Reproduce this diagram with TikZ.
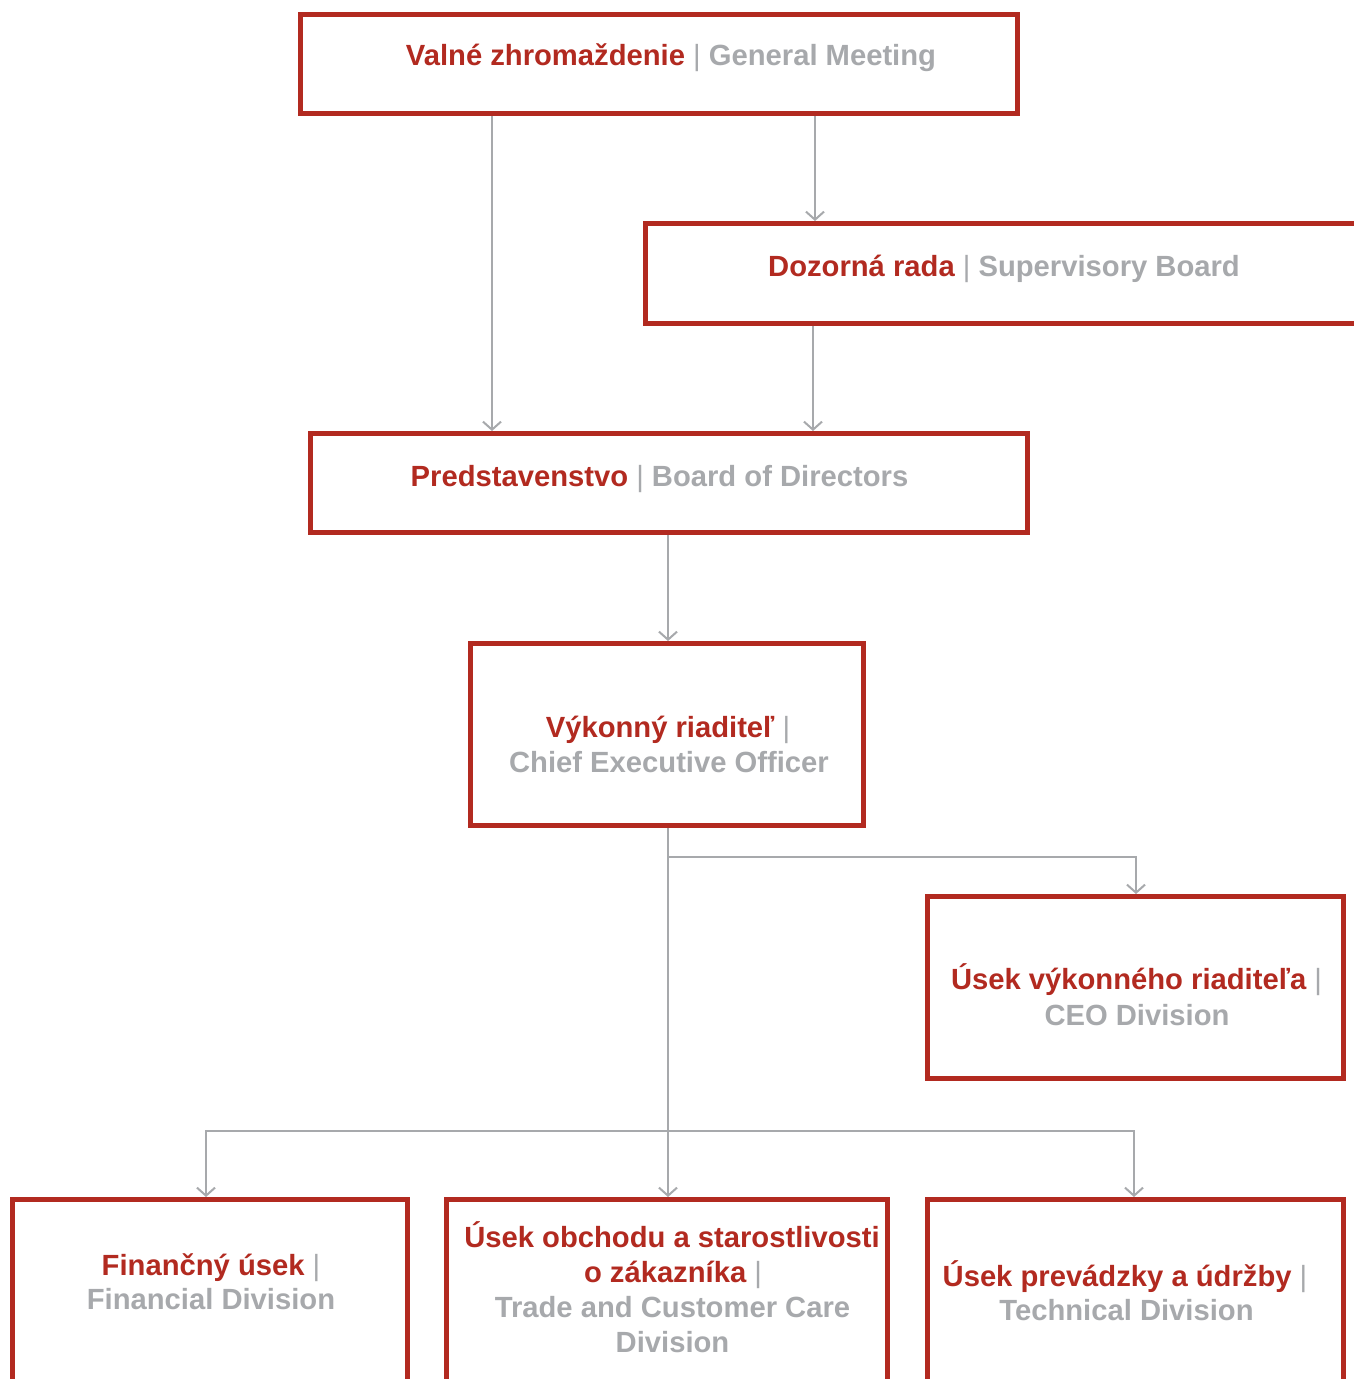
\documentclass[tikz,border=0pt]{standalone}
\usepackage{fontspec}
\setmainfont{Liberation Sans}
\usetikzlibrary{arrows.meta}
\definecolor{cred}{HTML}{B22A20}
\definecolor{cgray}{HTML}{A7A9AC}
\newcommand{\rt}[1]{{\color{cred}#1}}
\newcommand{\gt}[1]{{\color{cgray}#1}}
\newcommand{\pp}{{\color{cgray}\mdseries|}}
\tikzset{
  orgbox/.style={draw=cred, line width=5pt, fill=white, anchor=north west, inner sep=0pt},
  txt/.style={font=\fontsize{29.2}{35}\selectfont\bfseries, inner sep=0pt, anchor=base},
  arr/.style={draw=cgray, line width=2pt, -{Straight Barb[length=8pt,width=18pt,line width=2pt]}},
  conn/.style={draw=cgray, line width=2pt}
}
\begin{document}
\begin{tikzpicture}[x=1pt,y=-1pt]
\clip (0,0) rectangle (1354,1379);
\fill[white] (0,0) rectangle (1354,1379);
% boxes
\node[orgbox, minimum width=717pt, minimum height=99pt] (gm) at (298,12) {};
\node[orgbox, minimum width=717pt, minimum height=100pt] (sb) at (643,221) {};
\node[orgbox, minimum width=717pt, minimum height=99pt] (bd) at (308,431) {};
\node[orgbox, minimum width=393pt, minimum height=182pt] (ceo) at (468,641) {};
\node[orgbox, minimum width=416pt, minimum height=182pt] (ceod) at (925,894) {};
\node[orgbox, minimum width=395pt, minimum height=182pt] (fin) at (10,1197) {};
\node[orgbox, minimum width=441pt, minimum height=182pt] (trade) at (444,1197) {};
\node[orgbox, minimum width=416pt, minimum height=182pt] (tech) at (925,1197) {};
% texts
\node[txt] (gmt) at (671,65) {\rt{Valné zhromaždenie} \pp{} \gt{General Meeting}};
\node[txt] (sbt) at (1004,276) {\rt{Dozorná rada} \pp{} \gt{Supervisory Board}};
\node[txt] (bdt) at (659.5,486) {\rt{Predstavenstvo} \pp{} \gt{Board of Directors}};
\node[txt] (ceot1) at (668,737) {\rt{Výkonný riaditeľ} \pp};
\node[txt] (ceot2) at (669,772) {\gt{Chief Executive Officer}};
\node[txt] (ceodt1) at (1136.5,989) {\rt{Úsek výkonného riaditeľa} \pp};
\node[txt] (ceodt2) at (1137,1025) {\gt{CEO Division}};
\node[txt] (fint1) at (211,1275) {\rt{Finančný úsek} \pp};
\node[txt] (fint2) at (211,1309) {\gt{Financial Division}};
\node[txt] (tradet1) at (672,1247) {\rt{Úsek obchodu a starostlivosti}};
\node[txt] (tradet2) at (673,1282) {\rt{o zákazníka} \pp};
\node[txt] (tradet3) at (672.5,1317) {\gt{Trade and Customer Care}};
\node[txt] (tradet4) at (672.5,1352) {\gt{Division}};
\node[txt] (techt1) at (1125,1286) {\rt{Úsek prevádzky a údržby} \pp};
\node[txt] (techt2) at (1126.5,1320) {\gt{Technical Division}};
% helper coordinates
\coordinate (a1) at (492,0);
\coordinate (a2) at (815,0);
\coordinate (a3) at (813,0);
\coordinate (a4) at (668,0);
\coordinate (j1) at (668,857);
\coordinate (j2) at (668,1131);
\coordinate (b1) at (206,0);
\coordinate (b3) at (1134,0);
\coordinate (c1) at (1136,0);
% connectors
\draw[arr] (gm.south -| a1) -- (bd.north -| a1);
\draw[arr] (gm.south -| a2) -- (sb.north -| a2);
\draw[arr] (sb.south -| a3) -- (bd.north -| a3);
\draw[arr] (bd.south -| a4) -- (ceo.north -| a4);
\draw[arr] (ceo.south -| a4) -- (trade.north -| a4);
\draw[arr] (j1) -| (ceod.north -| c1);
\draw[arr] (j2) -| (fin.north -| b1);
\draw[arr] (j2) -| (tech.north -| b3);
\end{tikzpicture}
\end{document}
